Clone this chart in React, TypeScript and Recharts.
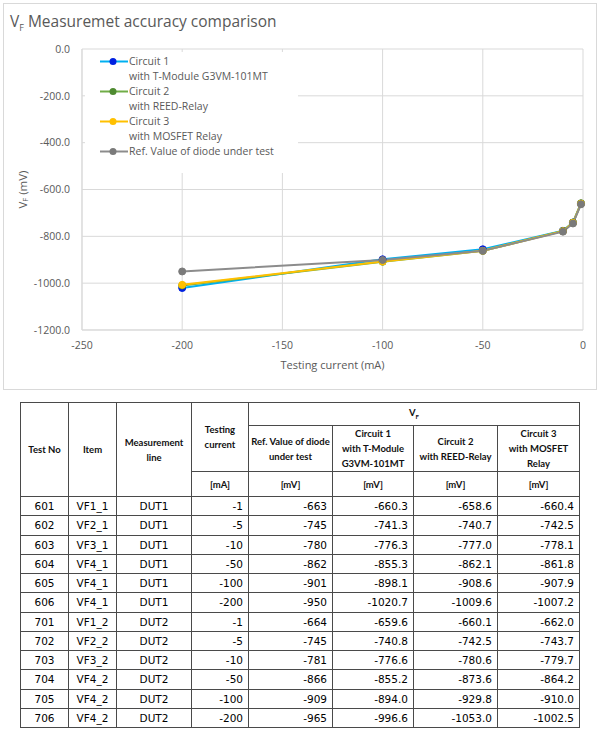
import React from 'react';
import { LineChart, Line, XAxis, YAxis, CartesianGrid, Legend } from 'recharts';

// table rows (DUT1 first, then DUT2)
const testNos = ['601', '602', '603', '604', '605', '606', '701', '702', '703', '704', '705', '706'];
const items = ['VF1_1', 'VF2_1', 'VF3_1', 'VF4_1', 'VF4_1', 'VF4_1', 'VF1_2', 'VF2_2', 'VF3_2', 'VF4_2', 'VF4_2', 'VF4_2'];
const lines = ['DUT1', 'DUT1', 'DUT1', 'DUT1', 'DUT1', 'DUT1', 'DUT2', 'DUT2', 'DUT2', 'DUT2', 'DUT2', 'DUT2'];
const testCurrents = [-1, -5, -10, -50, -100, -200, -1, -5, -10, -50, -100, -200];
const refValues = [-663, -745, -780, -862, -901, -950, -664, -745, -781, -866, -909, -965];
const circuit1 = [-660.3, -741.3, -776.3, -855.3, -898.1, -1020.7, -659.6, -740.8, -776.6, -855.2, -894.0, -996.6];
const circuit2 = [-658.6, -740.7, -777.0, -862.1, -908.6, -1009.6, -660.1, -742.5, -780.6, -873.6, -929.8, -1053.0];
const circuit3 = [-660.4, -742.5, -778.1, -861.8, -907.9, -1007.2, -662.0, -743.7, -779.7, -864.2, -910.0, -1002.5];

const xTicks = [-250, -200, -150, -100, -50, 0];
const yTicks = [0, -200, -400, -600, -800, -1000, -1200];

// chart shows DUT1 only
const chartData = testCurrents
  .map((current, i) => ({ current, line: lines[i], c1: circuit1[i], c2: circuit2[i], c3: circuit3[i], ref: refValues[i] }))
  .filter((d) => d.line === 'DUT1');

const SERIES = [
  { key: 'c1', name: 'Circuit 1', note: 'with T-Module G3VM-101MT', stroke: '#00B0F0', dot: '#0020E0' },
  { key: 'c2', name: 'Circuit 2', note: 'with REED-Relay', stroke: '#70AD47', dot: '#4E8A30' },
  { key: 'c3', name: 'Circuit 3', note: 'with MOSFET Relay', stroke: '#FFC000', dot: '#FFC000' },
  { key: 'ref', name: 'Ref. Value of diode under test', note: '', stroke: '#8C8C8C', dot: '#7A7A7A' },
];

const grey = '#595959';
const chartFont = '"Open Sans", sans-serif';

const renderLegend = () => (
  <div style={{ background: '#fff', width: 213, height: 121, paddingTop: 1.5, paddingLeft: 15, boxSizing: 'border-box', fontFamily: chartFont, fontSize: 10.5, color: grey, lineHeight: '15px' }}>
    {SERIES.map((s) => (
      <div key={s.key} style={{ display: 'flex', alignItems: 'flex-start' }}>
        <svg width={28} height={15} style={{ flex: 'none' }}>
          <line x1={0} y1={7.5} x2={28} y2={7.5} stroke={s.stroke} strokeWidth={2} />
          <circle cx={13} cy={7.5} r={3.5} fill={s.dot} />
        </svg>
        <div style={{ marginLeft: 1 }}>
          <div>{s.name}</div>
          {s.note && <div>{s.note}</div>}
        </div>
      </div>
    ))}
  </div>
);

const YLabel = (props: any) => {
  const vb = props.viewBox || { x: 0, y: 0, width: 0, height: 0 };
  const cx = vb.x + 18;
  const cy = vb.y + vb.height / 2;
  return (
    <text x={cx} y={cy} transform={`rotate(-90, ${cx}, ${cy})`} textAnchor="middle" dominantBaseline="central" fill={grey} fontSize={11.5} fontFamily={chartFont}>
      V<tspan dy={3} fontSize={7.5}>F</tspan><tspan dy={-3}> (mV)</tspan>
    </text>
  );
};

const th: React.CSSProperties = { border: '1px solid #4a4a4a', fontFamily: 'Lato, sans-serif', fontWeight: 700, fontSize: 9.5, textAlign: 'center', padding: 0, lineHeight: '15px', color: '#111' };
const td: React.CSSProperties = { border: '1px solid #4a4a4a', fontFamily: '"DejaVu Sans", sans-serif', fontSize: 10.5, padding: '0 5px', height: 18, color: '#000' };
const colWidths = [48, 48, 75, 57, 84, 81, 84, 82];

export default function App() {
  return (
    <div style={{ position: 'absolute', left: 0, top: 0, width: 600, height: 730, background: '#fff', overflow: 'hidden' }}>
      {/* chart frame */}
      <div style={{ position: 'absolute', left: 3, top: 3, width: 594, height: 387, border: '1px solid #d9d9d9', boxSizing: 'border-box' }}>
        <div style={{ position: 'absolute', left: 6, top: 6, fontFamily: chartFont, fontSize: 15.5, color: grey, whiteSpace: 'nowrap' }}>
          V<sub style={{ fontSize: 9 }}>F</sub> Measuremet accuracy comparison
        </div>
        <LineChart width={592} height={385} data={chartData} margin={{ top: 45, right: 13, left: 0, bottom: 0 }}>
          <CartesianGrid stroke="#d9d9d9" />
          <XAxis
            dataKey="current"
            type="number"
            domain={[-250, 0]}
            ticks={xTicks}
            height={59}
            axisLine={{ stroke: '#d9d9d9' }}
            tickLine={false}
            tickMargin={6}
            tick={{ fill: grey, fontSize: 10.5, fontFamily: chartFont }}
            label={{ value: 'Testing current (mA)', position: 'insideBottom', offset: 20, fill: grey, fontSize: 11, fontFamily: chartFont }}
          />
          <YAxis
            type="number"
            domain={[-1200, 0]}
            ticks={yTicks}
            width={78}
            axisLine={{ stroke: '#d9d9d9' }}
            tickLine={false}
            tickMargin={6}
            tickFormatter={(v: number) => v.toFixed(1)}
            tick={{ fill: grey, fontSize: 10.5, fontFamily: chartFont }}
            label={<YLabel />}
          />
          <Legend layout="vertical" align="center" verticalAlign="middle" content={renderLegend} wrapperStyle={{ left: 81, top: 48, width: 213 }} />
          {SERIES.map((s) => (
            <Line
              key={s.key}
              dataKey={s.key}
              name={s.name}
              stroke={s.stroke}
              strokeWidth={2}
              dot={{ r: 3.5, fill: s.dot, stroke: s.dot, strokeWidth: 1 }}
              isAnimationActive={false}
            />
          ))}
        </LineChart>
      </div>

      {/* data table */}
      <table style={{ position: 'absolute', left: 20, top: 402, borderCollapse: 'collapse', tableLayout: 'fixed', width: 559, border: '1.5px solid #333' }}>
        <colgroup>
          {colWidths.map((w, i) => <col key={i} style={{ width: w }} />)}
        </colgroup>
        <thead>
          <tr style={{ height: 23 }}>
            <th rowSpan={3} style={th}>Test No</th>
            <th rowSpan={3} style={th}>Item</th>
            <th rowSpan={3} style={th}>Measurement<br />line</th>
            <th rowSpan={2} style={th}>Testing<br />current</th>
            <th colSpan={4} style={th}>V<sub style={{ fontSize: 6 }}>F</sub></th>
          </tr>
          <tr style={{ height: 45 }}>
            <th style={th}>Ref. Value of diode<br />under test</th>
            <th style={th}>Circuit 1<br />with T-Module<br />G3VM-101MT</th>
            <th style={th}>Circuit 2<br />with REED-Relay</th>
            <th style={th}>Circuit 3<br />with MOSFET<br />Relay</th>
          </tr>
          <tr style={{ height: 25 }}>
            <th style={th}>[mA]</th>
            <th style={th}>[mV]</th>
            <th style={th}>[mV]</th>
            <th style={th}>[mV]</th>
            <th style={th}>[mV]</th>
          </tr>
        </thead>
        <tbody>
          {testNos.map((no, i) => (
            <tr key={no} style={{ height: 19.25 }}>
              <td style={{ ...td, textAlign: 'center' }}>{no}</td>
              <td style={{ ...td, textAlign: 'center' }}>{items[i]}</td>
              <td style={{ ...td, textAlign: 'center' }}>{lines[i]}</td>
              <td style={{ ...td, textAlign: 'right' }}>{testCurrents[i]}</td>
              <td style={{ ...td, textAlign: 'right' }}>{refValues[i]}</td>
              <td style={{ ...td, textAlign: 'right' }}>{circuit1[i].toFixed(1)}</td>
              <td style={{ ...td, textAlign: 'right' }}>{circuit2[i].toFixed(1)}</td>
              <td style={{ ...td, textAlign: 'right' }}>{circuit3[i].toFixed(1)}</td>
            </tr>
          ))}
        </tbody>
      </table>
    </div>
  );
}
